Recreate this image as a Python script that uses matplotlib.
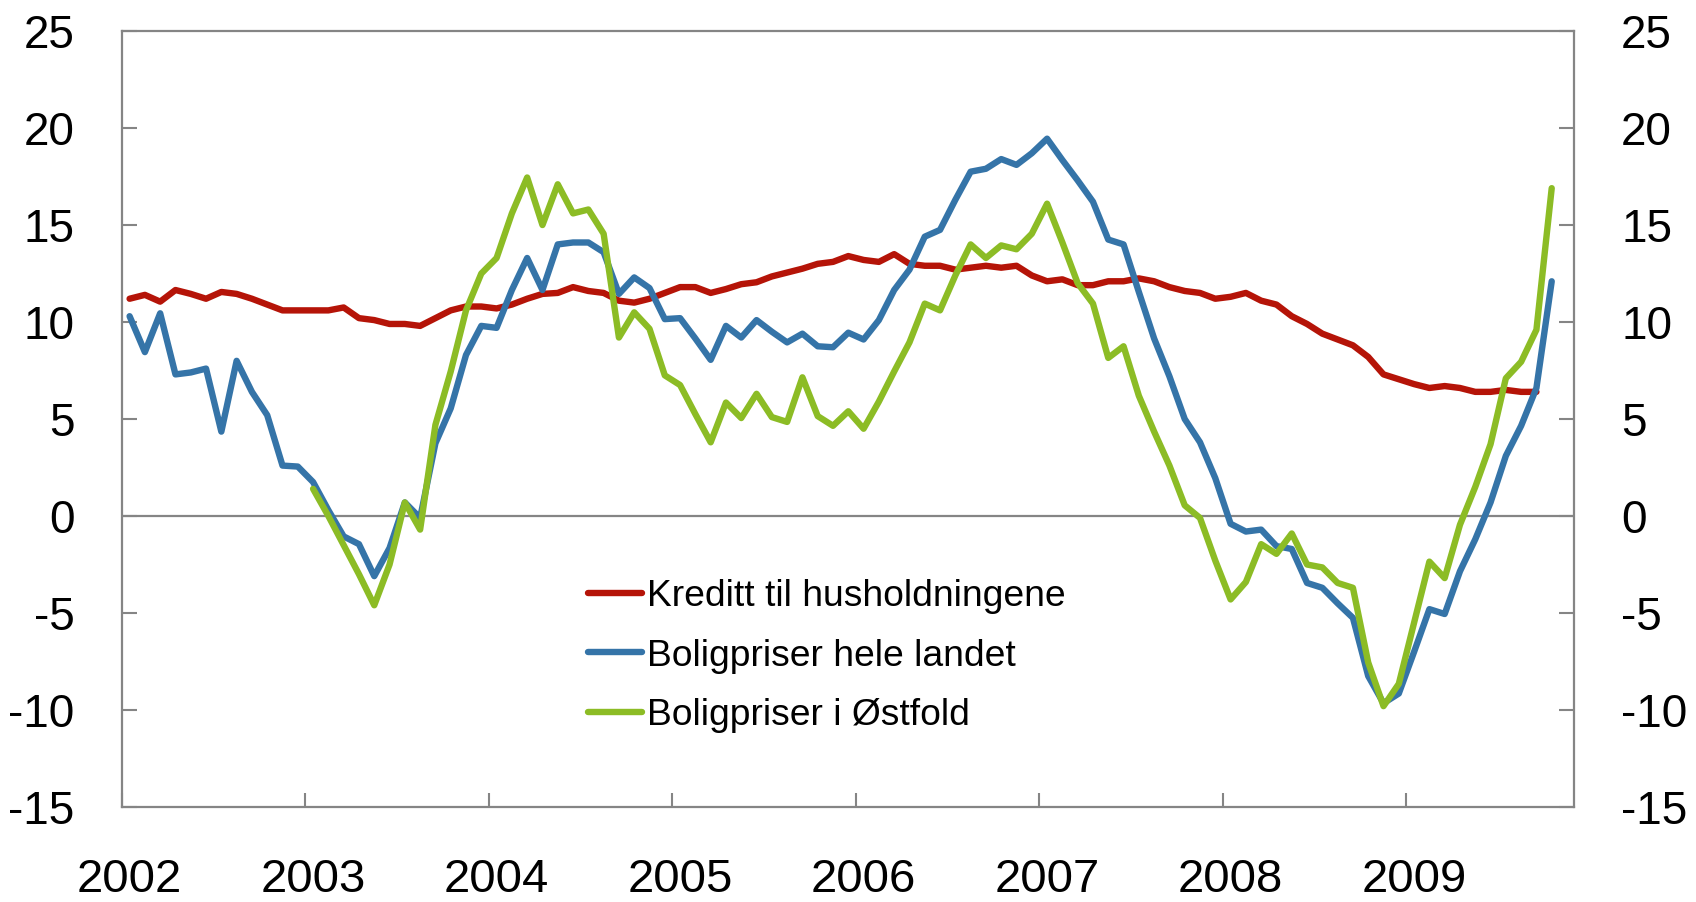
# coding: utf-8
import numpy as np
import matplotlib
matplotlib.use('Agg')
import matplotlib.pyplot as plt

# data: 12-month growth, monthly from Jan 2002
years = ['2002', '2003', '2004', '2005', '2006', '2007', '2008', '2009']
labels = ['Kreditt til husholdningene', 'Boligpriser hele landet', 'Boligpriser i Østfold']

kreditt = [11.2, 11.4, 11.05, 11.65, 11.45, 11.2, 11.55, 11.45, 11.2, 10.9, 10.6, 10.6,
           10.6, 10.6, 10.75, 10.2, 10.1, 9.9, 9.9, 9.8, 10.2, 10.6, 10.8, 10.8,
           10.7, 10.9, 11.2, 11.45, 11.5, 11.8, 11.6, 11.5, 11.1, 11.0, 11.2, 11.5,
           11.8, 11.8, 11.5, 11.7, 11.95, 12.05, 12.35, 12.55, 12.75, 13.0, 13.1, 13.4,
           13.2, 13.1, 13.5, 13.0, 12.9, 12.9, 12.7, 12.8, 12.9, 12.8, 12.9, 12.4,
           12.1, 12.2, 11.9, 11.9, 12.1, 12.1, 12.25, 12.1, 11.8, 11.6, 11.5, 11.2,
           11.3, 11.5, 11.1, 10.9, 10.3, 9.9, 9.4, 9.1, 8.8, 8.2, 7.3, 7.05,
           6.8, 6.6, 6.7, 6.6, 6.4, 6.4, 6.5, 6.4, 6.4]

hele_landet = [10.3, 8.45, 10.45, 7.3, 7.4, 7.6, 4.35, 8.0, 6.4, 5.2, 2.6, 2.55,
               1.75, 0.3, -1.05, -1.45, -3.1, -1.65, 0.7, -0.1, 3.75, 5.55, 8.3, 9.8,
               9.7, 11.65, 13.3, 11.65, 14.0, 14.1, 14.1, 13.6, 11.45, 12.3, 11.75, 10.15,
               10.2, 9.15, 8.05, 9.8, 9.2, 10.1, 9.5, 8.95, 9.4, 8.75, 8.7, 9.45,
               9.1, 10.1, 11.65, 12.7, 14.4, 14.75, 16.3, 17.75, 17.9, 18.4, 18.1, 18.7,
               19.45, 18.35, 17.3, 16.2, 14.25, 14.0, 11.55, 9.15, 7.2, 5.0, 3.8, 1.95,
               -0.4, -0.8, -0.7, -1.55, -1.7, -3.45, -3.7, -4.5, -5.25, -8.25, -9.65, -9.15,
               -7.0, -4.8, -5.05, -2.85, -1.2, 0.7, 3.1, 4.65, 6.6, 12.1]

# Østfold starts Jan 2003
ostfold = [1.4, 0.0, -1.5, -3.0, -4.6, -2.5, 0.7, -0.7, 4.7, 7.45, 10.6, 12.5,
           13.3, 15.6, 17.45, 15.0, 17.1, 15.6, 15.8, 14.55, 9.2, 10.5, 9.65, 7.25,
           6.75, 5.25, 3.8, 5.85, 5.05, 6.3, 5.1, 4.85, 7.15, 5.15, 4.65, 5.4,
           4.5, 5.9, 7.45, 8.95, 10.95, 10.6, 12.4, 14.0, 13.3, 13.95, 13.75, 14.55,
           16.1, 14.1, 12.0, 10.95, 8.15, 8.75, 6.2, 4.35, 2.6, 0.55, -0.1, -2.3,
           -4.3, -3.4, -1.45, -1.95, -0.9, -2.5, -2.65, -3.45, -3.7, -7.55, -9.8, -8.65,
           -5.5, -2.35, -3.2, -0.45, 1.5, 3.7, 7.1, 7.95, 9.6, 16.9]

colors = ['#B51408', '#3574A8', '#8CBC25']
grey = '#858585'

plt.rcParams['font.family'] = ['Liberation Sans', 'DejaVu Sans']
plt.rcParams['axes.unicode_minus'] = False

fig = plt.figure(figsize=(16.96, 9.02), dpi=100)
fig.subplots_adjust(left=0.0719, right=0.928, bottom=0.1053, top=0.9656)
ax = fig.add_subplot(1, 1, 1)

x_k = np.arange(len(kreditt))
x_h = np.arange(len(hele_landet))
x_o = np.arange(12, 12 + len(ostfold))

ax.axhline(0, color=grey, lw=1.6, zorder=1)
ax.plot(x_k, kreditt, color=colors[0], lw=4.6, label=labels[0], solid_capstyle='round', zorder=3)
ax.plot(x_h, hele_landet, color=colors[1], lw=4.6, label=labels[1], solid_capstyle='round', zorder=3)
ax.plot(x_o, ostfold, color=colors[2], lw=4.6, label=labels[2], solid_capstyle='round', zorder=3)

ax.set_xlim(-0.5, 94.45)
ax.set_ylim(-15, 25)
ax.set_yticks(np.arange(-15, 26, 5))

# year boundaries as ticks, year labels at January
ax.set_xticks(np.arange(len(years)) * 12 - 0.5)
ax.set_xticklabels([])
ax.set_xticks(np.arange(len(years)) * 12, minor=True)
ax.set_xticklabels(years, minor=True)
ax.tick_params(axis='x', which='major', direction='in', length=10, width=1.5, color=grey)
ax.tick_params(axis='x', which='minor', length=0, labelsize=34, pad=37)
ax.tick_params(axis='y', direction='in', length=11, width=1.5, color=grey,
               left=True, right=True, labelleft=True, labelright=True,
               labelsize=33, pad=34)

for s in ax.spines.values():
    s.set_color(grey)
    s.set_linewidth(1.6)

ax.legend(loc='center left', bbox_to_anchor=(0.321, 0.1946), frameon=False,
          fontsize=26.8, handlelength=1.45, handletextpad=0.14, labelspacing=0.66,
          borderpad=0, borderaxespad=0)

plt.savefig('out.png', dpi=100)
plt.close()
